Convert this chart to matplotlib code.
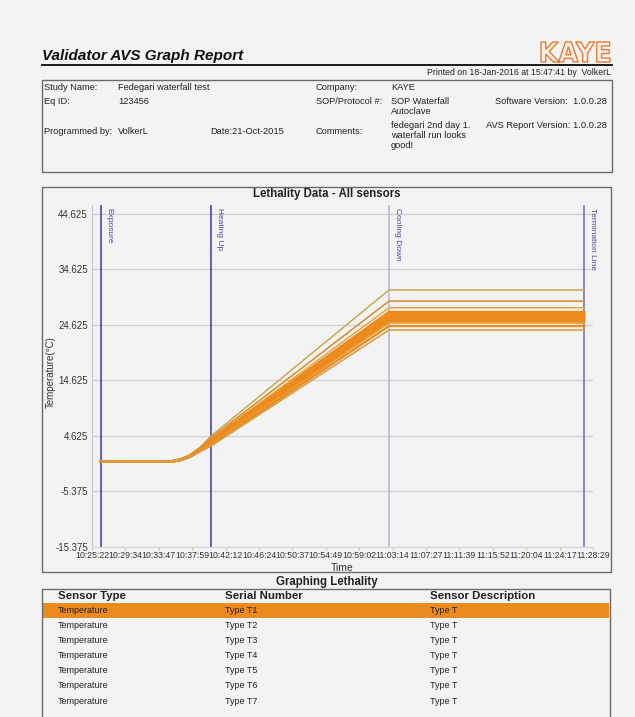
import matplotlib
matplotlib.use("Agg")
import matplotlib.pyplot as plt
from matplotlib.patches import Rectangle, PathPatch
from matplotlib.lines import Line2D
from matplotlib.textpath import TextPath
from matplotlib.font_manager import FontProperties
from matplotlib.transforms import Affine2D

plt.rcParams['font.family'] = ['Liberation Sans', 'DejaVu Sans']

# ---------------- data ----------------
x_tick_labels = ["10:25:22", "10:29:34", "10:33:47", "10:37:59", "10:42:12", "10:46:24",
                 "10:50:37", "10:54:49", "10:59:02", "11:03:14", "11:07:27", "11:11:39",
                 "11:15:52", "11:20:04", "11:24:17", "11:28:29"]
y_ticks = [-15.375, -5.375, 4.625, 14.625, 24.625, 34.625, 44.625]

phase_names = ["Exposure", "Heating Up", "Cooling Down", "Termination Line"]
phase_times = ["10:26:30", "10:40:22", "11:02:47", "11:27:22"]

sample_times = ["10:26:30", "10:35:20", "10:36:30", "10:37:40", "10:39:00", "10:40:22",
                "11:02:47", "11:27:21"]
sensor_T1 = [0.0, 0.05, 0.4, 1.2, 2.6, 4.6, 30.9, 30.9]
sensor_T2 = [0.0, 0.05, 0.4, 1.1, 2.5, 4.3, 28.9, 28.9]
sensor_T3 = [0.0, 0.05, 0.4, 1.1, 2.4, 4.1, 27.7, 27.7]
sensor_T4 = [0.0, 0.0, 0.35, 1.0, 2.3, 3.9, 26.9, 26.9]
sensor_T5 = [0.0, 0.0, 0.35, 1.0, 2.2, 3.7, 26.5, 26.5]
sensor_T6 = [0.0, 0.0, 0.35, 1.0, 2.2, 3.6, 26.2, 26.2]
sensor_T7 = [0.0, 0.0, 0.3, 0.9, 2.1, 3.5, 25.9, 25.9]
sensor_T8 = [0.0, 0.0, 0.3, 0.9, 2.1, 3.4, 25.6, 25.6]
sensor_T9 = [0.0, 0.0, 0.3, 0.9, 2.0, 3.3, 25.3, 25.3]
sensor_T10 = [0.0, 0.0, 0.3, 0.9, 2.0, 3.2, 25.0, 25.0]
sensor_T11 = [0.0, 0.0, 0.25, 0.8, 1.9, 3.0, 24.4, 24.4]
sensor_T12 = [0.0, 0.0, 0.25, 0.8, 1.8, 2.8, 23.7, 23.7]
sensors = [sensor_T1, sensor_T2, sensor_T3, sensor_T4, sensor_T5, sensor_T6,
           sensor_T7, sensor_T8, sensor_T9, sensor_T10, sensor_T11, sensor_T12]
sensor_colors = ["#c9a94f", "#da8a2c", "#e8a73c", "#ec8a1e", "#ec8a1e", "#ee8c1c",
                 "#ec8a1e", "#ee8c1c", "#ec8a1e", "#e89a30", "#ec8a1e", "#d4a24c"]
sensor_widths = [1.1, 1.1, 1.1, 2.0, 2.0, 2.0, 2.0, 2.0, 2.0, 1.4, 1.6, 1.2]

table_types = ["Temperature"] * 7
table_serials = ["Type T1", "Type T2", "Type T3", "Type T4", "Type T5", "Type T6", "Type T7"]
table_desc = ["Type T"] * 7

# ---------------- helpers ----------------
W, H = 635, 717
BG = "#f3f3f3"
TXT = "#222222"


def to_sec(s):
    h, m, sec = (int(v) for v in s.split(":"))
    return h * 3600 + m * 60 + sec


t0 = to_sec(x_tick_labels[0])


def rel(s):
    return to_sec(s) - t0


def fx(x):
    return x / W


def fy(y):
    return 1 - y / H


fig = plt.figure(figsize=(W / 100, H / 100), dpi=100, facecolor=BG)


def ftext(x, y, s, **kw):
    kw.setdefault("va", "center")
    kw.setdefault("color", TXT)
    fig.text(fx(x), fy(y), s, **kw)


def box(x0, y0, x1, y1, **kw):
    kw.setdefault("fill", False)
    kw.setdefault("ec", "#6a6a6a")
    kw.setdefault("lw", 1.0)
    fig.add_artist(Rectangle((fx(x0), fy(y1)), (x1 - x0) / W, (y1 - y0) / H,
                             transform=fig.transFigure, **kw))


# ---------------- header ----------------
ftext(42, 56, "Validator AVS Graph Report", fontsize=11, fontweight="bold",
      fontstyle="italic", color="#111111")
fig.add_artist(Line2D([fx(42), fx(612)], [fy(64.5), fy(64.5)], color="#1a1a1a",
                      lw=1.4, transform=fig.transFigure))
ftext(611, 72.5, "Printed on 18-Jan-2016 at 15:47:41 by  VolkerL", fontsize=6.3, ha="right")

# KAYE logo
tp = TextPath((0, 0), "KAYE", size=10, prop=FontProperties(family="DejaVu Sans", weight="bold"))
bb = tp.get_extents()
lx0, ly0, lx1, ly1 = 541, 42, 610, 62
sx = (lx1 - lx0) / bb.width
sy = (ly1 - ly0) / bb.height
tr = (Affine2D().translate(-bb.x0, -bb.y0).scale(sx, sy).translate(lx0, H - ly1)
      + Affine2D().scale(1 / W, 1 / H) + fig.transFigure)
fig.add_artist(PathPatch(tp, transform=tr, fc="#fbefe6", ec="#e27c34", lw=1.0))

# info box
box(42, 80, 612, 172)
fs = 6.7
ftext(44, 87, "Study Name:", fontsize=fs)
ftext(118, 87, "Fedegari waterfall test", fontsize=fs)
ftext(44, 102, "Eq ID:", fontsize=fs)
ftext(118, 102, "123456", fontsize=fs)
ftext(44, 131, "Programmed by:", fontsize=fs)
ftext(118, 131, "VolkerL", fontsize=fs)
ftext(210, 131, "Date:21-Oct-2015", fontsize=fs)
ftext(316, 87, "Company:", fontsize=fs)
ftext(391, 87, "KAYE", fontsize=fs)
ftext(316, 102, "SOP/Protocol #:", fontsize=fs)
ftext(391, 102, "SOP Waterfall", fontsize=fs)
ftext(391, 111, "Autoclave", fontsize=fs)
ftext(316, 131, "Comments:", fontsize=fs)
ftext(391, 126, "fedegari 2nd day 1.", fontsize=fs)
ftext(391, 136, "waterfall run looks", fontsize=fs)
ftext(391, 146, "good!", fontsize=fs)
ftext(607, 102, "Software Version:  1.0.0.28", fontsize=fs, ha="right")
ftext(607, 126, "AVS Report Version: 1.0.0.28", fontsize=fs, ha="right")

# ---------------- chart ----------------
box(42, 187, 611, 572)
ftext(327, 193.5, "Lethality Data - All sensors", fontsize=8.3, fontweight="bold", ha="center")

ax = fig.add_axes([fx(92), fy(547), (593 - 92) / W, (547 - 205) / H])
ax.set_facecolor(BG)
ax.set_xlim(0, rel(x_tick_labels[-1]))
ax.set_ylim(-15.375, 46.2)

st = [rel(s) for s in sample_times]
for vals, c, lw in zip(sensors, sensor_colors, sensor_widths):
    ax.plot(st, vals, color=c, lw=lw, solid_joinstyle="round", zorder=3)

phase_colors = ["#4a46a8", "#4a46a8", "#bdb8d6", "#7a70c8"]
for name, t, c in zip(phase_names, phase_times, phase_colors):
    ax.axvline(rel(t), color=c, lw=1.2, zorder=2)
    ax.annotate(name, xy=(rel(t), 1.0), xycoords=("data", "axes fraction"),
                xytext=(8, -3), textcoords="offset pixels", rotation=-90,
                ha="center", va="top", fontsize=6, color="#4a46a8")

ax.set_yticks(y_ticks)
ax.set_yticklabels([f"{v:.3f}" for v in y_ticks])
ax.set_xticks([rel(s) for s in x_tick_labels])
ax.set_xticklabels(x_tick_labels)
ax.tick_params(axis="y", length=0, labelsize=7, labelcolor="#333333", pad=3)
ax.tick_params(axis="x", length=2, color="#d9cc98", labelsize=6.3,
               labelcolor="#333333", pad=1)
ax.grid(axis="y", color="#cfcfd8", lw=0.9)
for side in ["top", "right"]:
    ax.spines[side].set_visible(False)
ax.spines["left"].set_color("#c8c8d8")
ax.spines["bottom"].set_color("#d8d8e0")
ax.spines["left"].set_linewidth(0.9)
ax.spines["bottom"].set_linewidth(0.9)
ax.set_ylabel("Temperature(°C)", fontsize=7, color="#333333")
ax.yaxis.set_label_coords((56 - 92) / 501, (547 - 372) / 342)
ax.set_xlabel("Time", fontsize=7.5, color="#333333", labelpad=2)

# ---------------- table ----------------
ftext(327, 582, "Graphing Lethality", fontsize=8.3, fontweight="bold", ha="center")
fig.add_artist(Line2D([fx(42), fx(42), fx(610), fx(610)], [fy(720), fy(589), fy(589), fy(720)],
                      color="#6a6a6a", lw=1.0, transform=fig.transFigure))
col_x = [58, 225, 430]
headers = ["Sensor Type", "Serial Number", "Sensor Description"]
for x, h in zip(col_x, headers):
    ftext(x, 596, h, fontsize=8.2, fontweight="bold")
fig.add_artist(Rectangle((fx(43), fy(618)), (609 - 43) / W, 15 / H, transform=fig.transFigure,
                         fc="#ec8a1e", ec="none"))
for i, (a, b, c) in enumerate(zip(table_types, table_serials, table_desc)):
    y = 610.5 + i * 15.1
    ftext(col_x[0], y, a, fontsize=6.5)
    ftext(col_x[1], y, b, fontsize=6.5)
    ftext(col_x[2], y, c, fontsize=6.5)

fig.savefig("out.png", dpi=100, facecolor=BG)
